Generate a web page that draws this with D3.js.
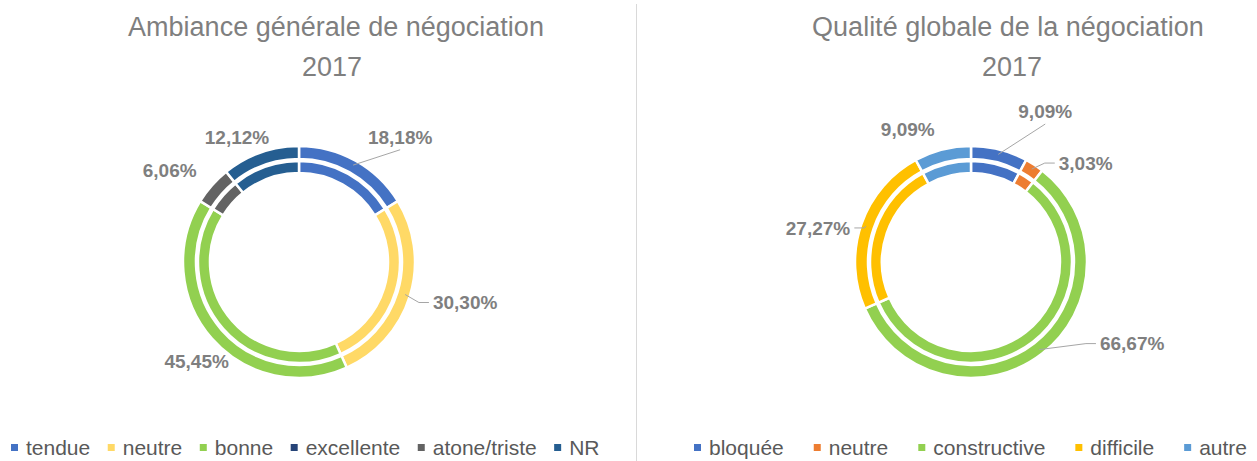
<!DOCTYPE html>
<html>
<head>
<meta charset="utf-8">
<script src="https://cdn.jsdelivr.net/npm/d3@7"></script>
<style>
  body { margin: 0; background: #fff; }
  svg { display: block; font-family: 'Liberation Sans', Arial, sans-serif; }
</style>
</head>
<body>
<div class="chart"></div>
<script>
// left chart: ambiance
const leftTitle = ['Ambiance générale de négociation', '2017']
const leftCategories = ['tendue', 'neutre', 'bonne', 'excellente', 'atone/triste', 'NR']
const leftValues = [18.18, 30.30, 45.45, 0, 6.06, 12.12]
const leftColors = ['#4472C4', '#FFD966', '#92D050', '#264478', '#636363', '#255E91']

// right chart: qualité
const rightTitle = ['Qualité globale de la négociation', '2017']
const rightCategories = ['bloquée', 'neutre', 'constructive', 'difficile', 'autre']
const rightValues = [9.09, 3.03, 66.67, 27.27, 9.09]
const rightColors = ['#4472C4', '#ED7D31', '#92D050', '#FFC000', '#5B9BD5']

// label offsets from the slice anchor (layout only)
const leftLabelOffsets = [[47, -28], [60, 8], [-19, 26], [0, 0], [-46, -18], [-25, -20]]
const leftLeaders = [true, true, false, false, false, false]
const rightLabelOffsets = [[47, -43], [54, -6], [93, -6], [-48, 2], [-36, -25]]
const rightLeaders = [true, true, true, true, false]

const width = 1257
const height = 461

const svg = d3.select('.chart')
  .append('svg')
  .attr('width', width)
  .attr('height', height)

// divider between the two charts
svg.append('line')
  .attr('x1', 636.5).attr('x2', 636.5)
  .attr('y1', 4).attr('y2', height)
  .attr('stroke', '#d9d9d9')
  .attr('stroke-width', 1)

const fmt = (v) => v.toFixed(2).replace('.', ',') + '%'

function drawDonut (opts) {
  const { cx, cy, title, titleX, categories, values, colors, offsets, leaders, legendX, legendGap } = opts

  // title
  title.forEach((t, i) => {
    svg.append('text')
      .attr('x', titleX[i])
      .attr('y', i === 0 ? 36 : 76)
      .attr('text-anchor', 'middle')
      .attr('fill', '#7f7f7f')
      .style('font-size', '27px')
      .text(t)
  })

  const data = categories.map((c, i) => ({ name: c, value: values[i], color: colors[i], i }))
  const pie = d3.pie().sort(null).value((d) => d.value)
  const arcs = pie(data)

  const g = svg.append('g').attr('transform', `translate(${cx},${cy})`)

  const outer = d3.arc().innerRadius(103).outerRadius(116)
  const inner = d3.arc().innerRadius(89).outerRadius(101)

  ;[outer, inner].forEach((arc) => {
    g.append('g')
      .selectAll('path')
      .data(arcs.filter((d) => d.data.value > 0))
      .enter()
      .append('path')
      .attr('d', arc)
      .attr('fill', (d) => d.data.color)
      .attr('stroke', '#fff')
      .attr('stroke-width', 2.5)
  })

  // labels
  const anchorR = 111
  arcs.filter((d) => d.data.value > 0).forEach((d) => {
    const mid = (d.startAngle + d.endAngle) / 2
    const ax = anchorR * Math.sin(mid)
    const ay = -anchorR * Math.cos(mid)
    const off = offsets[d.data.i]
    const lx = ax + off[0]
    const ly = ay + off[1]

    const label = g.append('text')
      .attr('x', lx)
      .attr('y', ly)
      .attr('dy', '0.35em')
      .attr('text-anchor', 'middle')
      .attr('fill', '#7f7f7f')
      .style('font-size', '19px')
      .style('font-weight', 'bold')
      .text(fmt(d.data.value))

    if (leaders[d.data.i]) {
      const bb = label.node().getBBox()
      let pts
      if (ay > bb.y + bb.height + 6 && ax > bb.x - 60 && ax < bb.x + bb.width + 60 && Math.abs(off[0]) < 50) {
        pts = [[lx, bb.y + bb.height + 2], [ax, ay]]
      } else if (ax < bb.x) {
        const sx = bb.x - 4
        pts = [[sx, ly], [sx - 10, ly], [ax, ay]]
      } else {
        const sx = bb.x + bb.width + 4
        pts = [[sx, ly], [sx + 10, ly], [ax, ay]]
      }
      g.append('path')
        .attr('d', d3.line()(pts))
        .attr('fill', 'none')
        .attr('stroke', '#a6a6a6')
        .attr('stroke-width', 1)
    }
  })

  // legend
  const legend = svg.append('g').attr('transform', `translate(${legendX},448)`)
  let x = 0
  data.forEach((d) => {
    legend.append('rect')
      .attr('x', x).attr('y', -4)
      .attr('width', 7).attr('height', 7)
      .attr('fill', d.color)
    const t = legend.append('text')
      .attr('x', x + 15)
      .attr('y', 7)
      .attr('fill', '#595959')
      .style('font-size', '21px')
      .text(d.name)
    x += 15 + t.node().getComputedTextLength() + legendGap
  })
}

drawDonut({
  cx: 299,
  cy: 262,
  title: leftTitle,
  titleX: [336, 332],
  categories: leftCategories,
  values: leftValues,
  colors: leftColors,
  offsets: leftLabelOffsets,
  leaders: leftLeaders,
  legendX: 11,
  legendGap: 17.5
})

drawDonut({
  cx: 971,
  cy: 262,
  title: rightTitle,
  titleX: [1008, 1012],
  categories: rightCategories,
  values: rightValues,
  colors: rightColors,
  offsets: rightLabelOffsets,
  leaders: rightLeaders,
  legendX: 694,
  legendGap: 30
})
</script>
</body>
</html>
